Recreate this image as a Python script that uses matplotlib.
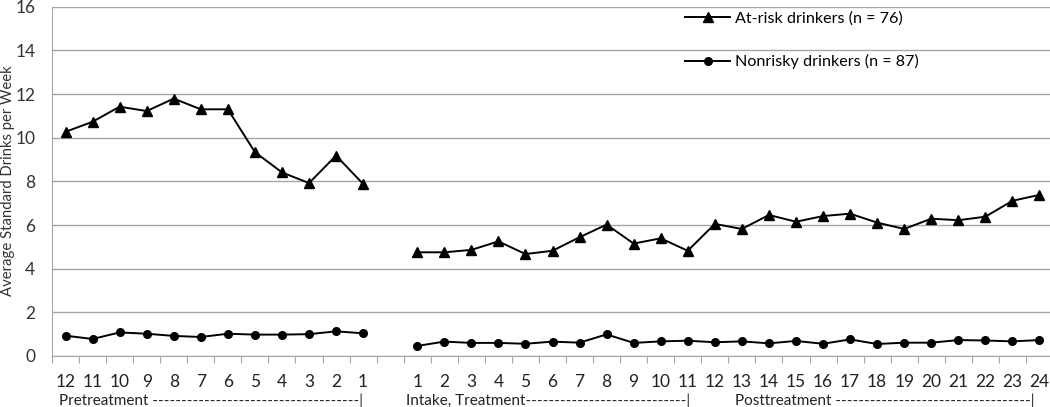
import numpy as np
import matplotlib.pyplot as plt

plt.rcParams['font.family'] = ['Lato', 'DejaVu Sans']

pre_labels = ['12', '11', '10', '9', '8', '7', '6', '5', '4', '3', '2', '1']
post_labels = [str(i) for i in range(1, 25)]

atrisk_pre = [10.27, 10.73, 11.42, 11.22, 11.79, 11.30, 11.30, 9.34, 8.41, 7.92, 9.18, 7.88]
atrisk_post = [4.75, 4.75, 4.86, 5.25, 4.67, 4.82, 5.44, 6.02, 5.15, 5.39, 4.82, 6.05,
               5.82, 6.46, 6.15, 6.41, 6.52, 6.11, 5.82, 6.29, 6.22, 6.38, 7.11, 7.38]
nonrisky_pre = [0.93, 0.78, 1.08, 1.02, 0.92, 0.87, 1.02, 0.98, 0.98, 1.00, 1.13, 1.04]
nonrisky_post = [0.46, 0.66, 0.60, 0.60, 0.56, 0.66, 0.61, 0.99, 0.60, 0.67, 0.70, 0.63,
                 0.67, 0.58, 0.69, 0.56, 0.76, 0.55, 0.61, 0.61, 0.73, 0.71, 0.67, 0.73]

phases = ['Pretreatment ', 'Intake, Treatment', 'Posttreatment ']

# positions: 12 pretreatment weeks, one empty slot, then 24 weeks
x_pre = np.arange(len(pre_labels))
x_post = np.arange(len(post_labels)) + len(pre_labels) + 1

fig = plt.figure(figsize=(10.5, 4.07), dpi=100)
ax = fig.add_axes([52 / 1050, 51 / 407, 1001 / 1050, 349.3 / 407])

ax.plot(x_pre, atrisk_pre, color='black', lw=1.4, marker='^', ms=7,
        label='At-risk drinkers (n = 76)')
ax.plot(x_post, atrisk_post, color='black', lw=1.4, marker='^', ms=7)
ax.plot(x_pre, nonrisky_pre, color='black', lw=1.4, marker='o', ms=5.5,
        label='Nonrisky drinkers (n = 87)')
ax.plot(x_post, nonrisky_post, color='black', lw=1.4, marker='o', ms=5.5)

ax.set_ylim(0, 16)
ax.set_yticks(range(0, 17, 2))
ax.set_xlim(-0.5, 36.5)
ax.grid(axis='y', color='#a6a6a6', lw=1)
ax.set_axisbelow(True)
for s in ['top', 'right']:
    ax.spines[s].set_visible(False)
ax.spines['left'].set_color('#a6a6a6')
ax.spines['bottom'].set_color('#a6a6a6')
ax.tick_params(axis='y', length=0, labelsize=12.5, pad=12, colors='#333333')

ax.set_xticks(np.arange(-0.5, 37, 1))
ax.set_xticklabels([])
ax.tick_params(axis='x', length=5, color='#a6a6a6', direction='out')
for xi, lab in zip(np.concatenate([x_pre, x_post]), pre_labels + post_labels):
    ax.text(xi, -1.2, lab, ha='center', va='center', fontsize=12.5, color='#222222')

# phase labels: text followed by hyphens up to a closing bar
renderer = fig.canvas.get_renderer()
spans = [(-0.25, 11.1), (12.6, 23.2), (24.75, 36.0)]
for name, (x0, x1) in zip(phases, spans):
    t = ax.text(x0, -2.05, name, ha='left', va='center', fontsize=11, color='#222222')
    target = ax.transData.transform((x1, 0))[0]
    s = name
    while True:
        t.set_text(s + '-|')
        bb = t.get_window_extent(renderer)
        if bb.x1 > target:
            break
        s += '-'
    t.set_text(s + '|')

fig.text(8 / 1050, 0.555, 'Average Standard Drinks per Week', rotation=90,
         ha='center', va='center', fontsize=10.7, color='#333333')

ax.legend(loc='upper left', bbox_to_anchor=(0.618, 1.027), frameon=False, fontsize=11.6,
          handlelength=2.8, labelspacing=1.75, handletextpad=0.3)

fig.savefig('out.png', dpi=100)
